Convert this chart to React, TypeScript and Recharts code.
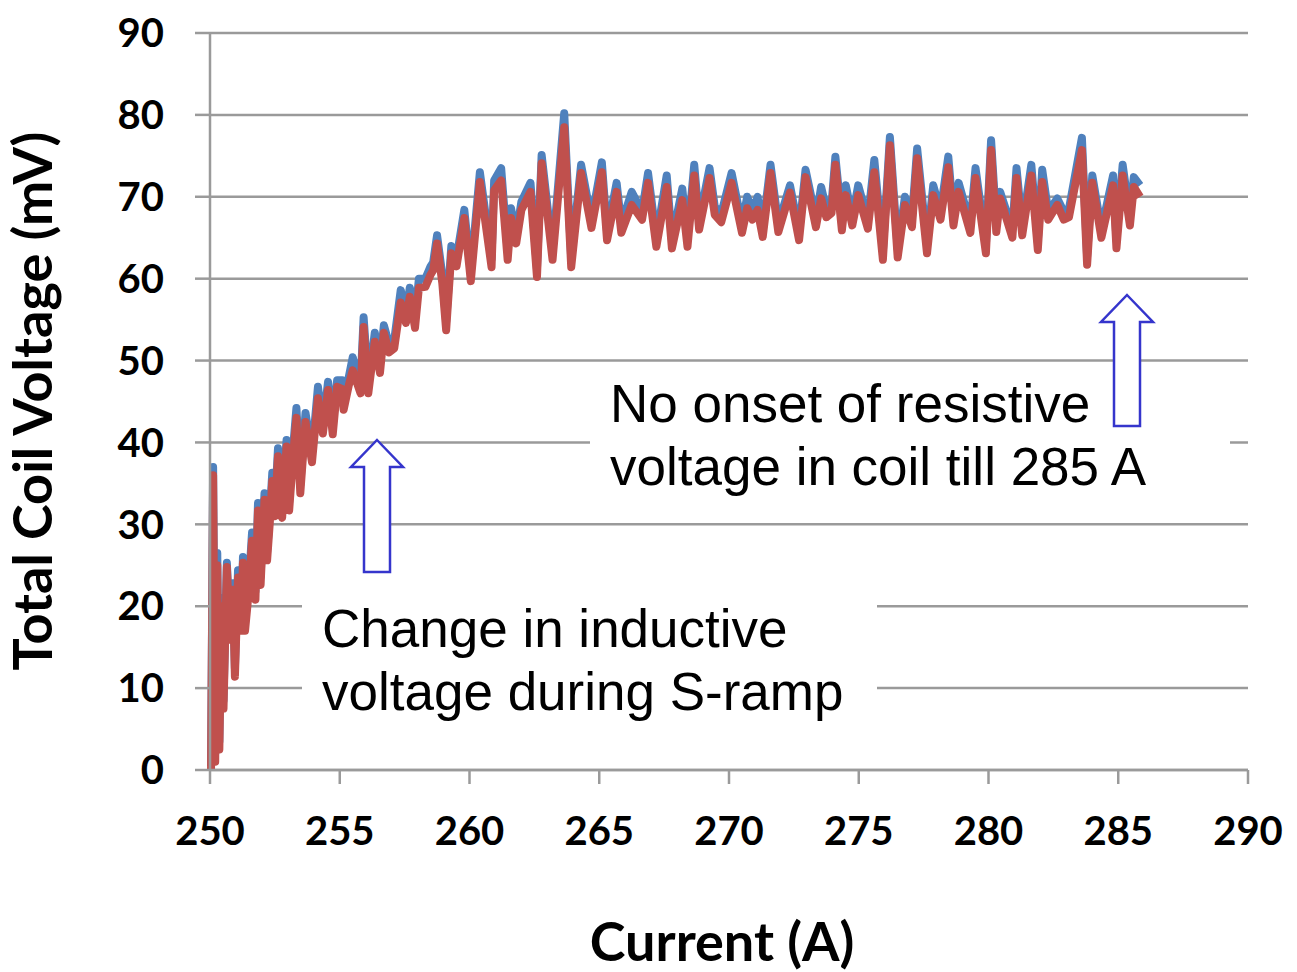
import { CartesianGrid, Line, LineChart, XAxis, YAxis } from "recharts";

// current (A) at each sample
const current = [
  250.04, 250.12, 250.2, 250.28, 250.36, 250.45, 250.52, 250.65, 250.77, 250.88,
  250.96, 251.08, 251.2, 251.27, 251.35, 251.5, 251.62, 251.75, 251.85, 251.95,
  252.1, 252.2, 252.3, 252.4, 252.5, 252.62, 252.7, 252.78, 252.95, 253.05,
  253.22, 253.33, 253.48, 253.68, 253.93, 254.16, 254.35, 254.55, 254.73, 254.9,
  255.1, 255.15, 255.35, 255.5, 255.8, 255.92, 256.1, 256.35, 256.55, 256.7,
  256.9, 257.1, 257.35, 257.55, 257.7, 257.9, 258.05, 258.3, 258.5, 258.6,
  258.75, 258.95, 259.1, 259.3, 259.5, 259.8, 260.05, 260.4, 260.85, 260.95,
  261.22, 261.47, 261.6, 261.8, 262.0, 262.35, 262.6, 262.78, 263.2, 263.65,
  263.92, 264.3, 264.7, 265.1, 265.3, 265.67, 265.85, 266.25, 266.65, 266.88,
  267.2, 267.6, 267.8, 268.2, 268.4, 268.66, 268.85, 269.25, 269.45, 269.7,
  270.1, 270.5, 270.7, 270.9, 271.1, 271.3, 271.6, 271.9, 272.35, 272.7,
  272.95, 273.35, 273.55, 273.75, 273.95, 274.1, 274.35, 274.5, 274.75, 274.98,
  275.35, 275.6, 275.93, 276.2, 276.5, 276.78, 277.05, 277.25, 277.63, 277.87,
  278.15, 278.45, 278.65, 278.85, 279.3, 279.5, 279.9, 280.1, 280.3, 280.45,
  280.92, 281.08, 281.3, 281.65, 281.9, 282.07, 282.3, 282.65, 282.9, 283.1,
  283.6, 283.8, 284.0, 284.35, 284.8, 284.93, 285.17, 285.45, 285.6, 285.84,
];

// blue trace (mV)
const voltageBlue = [
  0.5, 37, 2, 26.5, 3.5, 21, 8.5, 25.3, 16.9, 22.8,
  12.4, 24.4, 18, 26, 18, 23, 29, 21.8, 32.6, 23.6,
  33.8, 26.6, 31, 36.3, 32, 39.3, 32.5, 31.8, 40.3, 32.7,
  40, 44.2, 34.8, 43.6, 38.6, 46.8, 42.1, 47.4, 42, 47.6,
  47.6, 45, 48, 50.4, 47, 55.3, 47, 53.4, 49.5, 54.3,
  52, 52.5, 58.6, 55.6, 58.9, 55, 60, 60, 61.5, 62,
  65.3, 60.5, 54.7, 64, 62.5, 68.4, 60.7, 73, 62.4, 72,
  73.5, 63.3, 68.6, 65.3, 69.4, 71.7, 61.2, 75.1, 63.3, 80.2,
  62.4, 73.9, 67.2, 74.2, 65.7, 71.7, 66.6, 70.6, 68.2, 72.9,
  64.9, 72.6, 64.7, 71, 64.9, 73.9, 67, 73.5, 68.8, 67.9,
  72.9, 66.6, 70, 68.2, 70, 66.1, 73.9, 66.7, 71.4, 65.7,
  73.3, 67.3, 71.2, 68.5, 69, 74.9, 66.9, 71.4, 67.5, 71.4,
  67.1, 74.5, 63.3, 77.3, 63.6, 70, 67.3, 75.9, 64.1, 71.4,
  68.2, 74.9, 67.5, 71.7, 66.6, 73.5, 64.1, 76.9, 66.7, 70.6,
  66, 73.5, 66.3, 73.9, 64.5, 73.3, 68.2, 69.8, 68.2, 68.5,
  77.2, 62.7, 72.6, 66, 72.6, 64.7, 73.9, 67.5, 72.4, 71.4,
];

// red trace (mV)
const voltageRed = [
  0, 36, 1, 25, 2.5, 20, 7.5, 24.8, 15.9, 22,
  11.4, 23.5, 17, 25.3, 17, 22, 28, 20.8, 31.7, 22.6,
  33, 25.6, 30, 35.3, 31, 38.3, 31.5, 30.8, 39.5, 31.7,
  39, 43, 33.8, 42.5, 37.6, 45.4, 41.1, 46.4, 41, 46.8,
  46.5, 44, 47, 48.8, 46, 54.1, 46, 52.3, 48.5, 53.4,
  51, 51.5, 57.1, 54.6, 57.8, 54, 58.9, 59, 60.5, 61,
  64.3, 59.5, 53.7, 63.1, 61.5, 67.4, 59.7, 71.8, 61.4, 70.8,
  72, 62.3, 67.4, 64.3, 68.4, 70.6, 60.2, 74.1, 62.3, 78.5,
  61.4, 72.9, 66.2, 73, 64.7, 70.6, 65.6, 69, 67.2, 71.7,
  63.9, 71.2, 63.7, 69.6, 63.9, 72.6, 66, 72.3, 67.8, 66.9,
  71.7, 65.6, 68.6, 67.2, 68.4, 65.1, 72.9, 65.7, 70.5, 64.7,
  72.4, 66.3, 69.8, 67.5, 68, 73.9, 65.9, 70.2, 66.5, 70.2,
  66.1, 73, 62.3, 76.3, 62.6, 69, 66.3, 74.7, 63.1, 70.2,
  67.2, 73.6, 66.5, 70.6, 65.6, 72.3, 63.1, 75.7, 65.7, 69.8,
  65, 72.3, 65.3, 72.6, 63.5, 71.8, 67.2, 69, 67.2, 67.5,
  75.7, 61.7, 71.7, 65, 71.4, 63.7, 72.6, 66.5, 71.2, 70,
];

const xTicks = [250, 255, 260, 265, 270, 275, 280, 285, 290];
const yTicks = [0, 10, 20, 30, 40, 50, 60, 70, 80, 90];

const data = current.map((c, i) => ({
  current: c,
  blue: voltageBlue[i],
  red: voltageRed[i],
}));

const tickStyle = {
  fill: "#000",
  fontSize: 40,
  fontWeight: 700,
  fontFamily: "Lato, sans-serif",
};

const titleStyle = {
  fill: "#000",
  fontSize: 54,
  fontWeight: 700,
  fontFamily: "Lato, sans-serif",
};

const noteStyle = {
  fontFamily: "'Liberation Sans', Arial, sans-serif",
  fontSize: 53,
  fill: "#000",
};

function UpArrow({ cx, top, bottom }: { cx: number; top: number; bottom: number }) {
  const headH = 27;
  const headW = 26;
  const shaftW = 13;
  const d = `M${cx},${top} L${cx + headW},${top + headH} L${cx + shaftW},${top + headH} L${cx + shaftW},${bottom} L${cx - shaftW},${bottom} L${cx - shaftW},${top + headH} L${cx - headW},${top + headH} Z`;
  return <path d={d} fill="#fff" stroke="#3535cc" strokeWidth={2.5} />;
}

export default function App() {
  return (
    <div style={{ position: "absolute", left: 0, top: 0, width: 1297, height: 972 }}>
      <LineChart
        width={1297}
        height={972}
        data={data}
        margin={{ top: 33, right: 49, left: 0, bottom: 0 }}
      >
        <CartesianGrid vertical={false} stroke="#9a9a9a" strokeWidth={2.5} />
        <XAxis
          dataKey="current"
          type="number"
          domain={[250, 290]}
          ticks={xTicks}
          height={202}
          tick={tickStyle}
          tickSize={14}
          tickMargin={33}
          axisLine={{ stroke: "#9a9a9a", strokeWidth: 2.5 }}
          tickLine={{ stroke: "#9a9a9a", strokeWidth: 2.5 }}
        />
        <YAxis
          type="number"
          domain={[0, 90]}
          ticks={yTicks}
          width={210}
          tick={tickStyle}
          tickSize={15}
          tickMargin={31}
          axisLine={{ stroke: "#9a9a9a", strokeWidth: 2.5 }}
          tickLine={{ stroke: "#9a9a9a", strokeWidth: 2.5 }}
        />
        <Line
          type="linear"
          dataKey="blue"
          stroke="#4f81bd"
          strokeWidth={8}
          strokeLinejoin="round"
          dot={false}
          isAnimationActive={false}
        />
        <Line
          type="linear"
          dataKey="red"
          stroke="#c0504d"
          strokeWidth={8}
          strokeLinejoin="round"
          dot={false}
          isAnimationActive={false}
        />
      </LineChart>
      <svg
        width={1297}
        height={972}
        style={{ position: "absolute", left: 0, top: 0, pointerEvents: "none" }}
      >
        <text x={722} y={961} textAnchor="middle" style={titleStyle}>
          Current (A)
        </text>
        <text transform="translate(52,401) rotate(-90)" textAnchor="middle" style={titleStyle}>
          Total Coil Voltage (mV)
        </text>
        <rect x={590} y={362} width={640} height={142} fill="#fff" />
        <rect x={302} y={603} width={575} height={120} fill="#fff" />
        <text x={610} y={422} style={noteStyle}>No onset of resistive</text>
        <text x={610} y={485} style={noteStyle}>voltage in coil till 285 A</text>
        <text x={322} y={647} style={noteStyle}>Change in inductive</text>
        <text x={322} y={710} style={noteStyle}>voltage during S-ramp</text>
        <UpArrow cx={377} top={440} bottom={572} />
        <UpArrow cx={1127} top={295} bottom={426} />
      </svg>
    </div>
  );
}
